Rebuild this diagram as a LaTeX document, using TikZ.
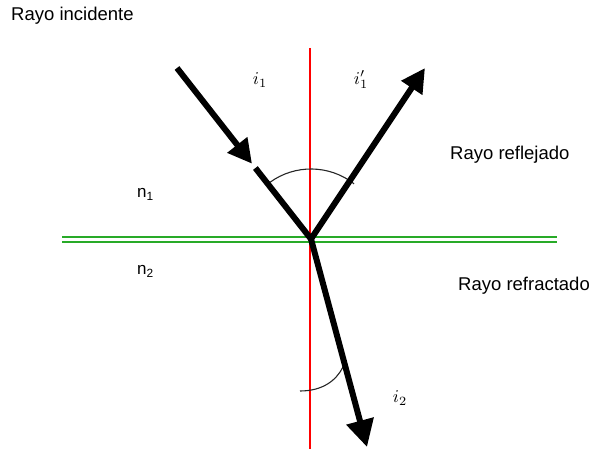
\documentclass[tikz,border=0pt]{standalone}
\usepackage{fontspec}
\setmainfont{Liberation Sans}
\usetikzlibrary{arrows.meta,calc}
\definecolor{interfacegreen}{RGB}{40,170,40}
\newcommand{\anglabel}[1]{\scalebox{1.8}{$#1$}}

\begin{document}
\begin{tikzpicture}[x=1pt,y=1pt,
    ray/.style={line width=6pt},
    head/.style={-{Triangle[length=24pt,width=24pt]}},
    bighead/.style={-{Triangle[length=27pt,width=27pt]}},
    surface/.style={interfacegreen, line width=1.8pt},
    txt/.style={font=\fontsize{18.5}{22}\selectfont, inner sep=0pt, anchor=base west},
    idx/.style={font=\fontsize{17}{20}\selectfont, inner sep=0pt, anchor=base west},
    ang/.style={inner sep=0pt}]
    \useasboundingbox (0,0) rectangle (592,449);
    % points of the rays
    \coordinate (O) at (311,210);
    \coordinate (incstart) at (177,381);
    \coordinate (inctip) at ($(O)!0.44!(incstart)$);
    \coordinate (increst) at ($(O)!0.415!(incstart)$);
    \coordinate (refltip) at (425,381);
    \coordinate (refrtip) at (367,2);
    \coordinate (normtop) at (310,401);
    \coordinate (normbot) at (310,0);
    \coordinate (surfL) at (62,209.5);
    \coordinate (surfR) at (557,209.5);
    \coordinate (arcL) at (300,58);
    \coordinate (arcR) at (343,82);
    % normal and surface
    \draw[red, line width=1.8pt] (normtop) -- (normbot);
    \draw[surface] ($(surfL)+(0,2.3)$) -- ($(surfR)+(0,2.3)$);
    \draw[surface] ($(surfL)+(0,-2.3)$) -- ($(surfR)+(0,-2.3)$);
    % angle arcs
    \draw[black!85, line width=1.1pt] ($(O)+(52:70)$) arc[start angle=52, end angle=126, radius=70];
    \draw[black!85, line width=1.1pt] (arcL) .. controls (322,58) and (336,68) .. (arcR);
    % rays
    \draw[ray, head] (incstart) -- (inctip);
    \draw[ray] (increst) -- (O);
    \draw[ray, head] (O) -- (refltip);
    \draw[ray, bighead] (O) -- (refrtip);
    % labels
    \node[txt] (inclabel) at (11,428) {Rayo incidente};
    \node[txt] (refllabel) at (450,289) {Rayo reflejado};
    \node[txt] (refrlabel) at (458,158) {Rayo refractado};
    \node[idx] (none) at (137,251) {n\textsubscript{1}};
    \node[idx] (ntwo) at (137,174) {n\textsubscript{2}};
    \node[ang] (ione) at (260,369) {\anglabel{i_1}};
    \node[ang] (ionep) at (361,369) {\anglabel{i_1'}};
    \node[ang] (itwo) at (400,51) {\anglabel{i_2}};
\end{tikzpicture}
\end{document}
